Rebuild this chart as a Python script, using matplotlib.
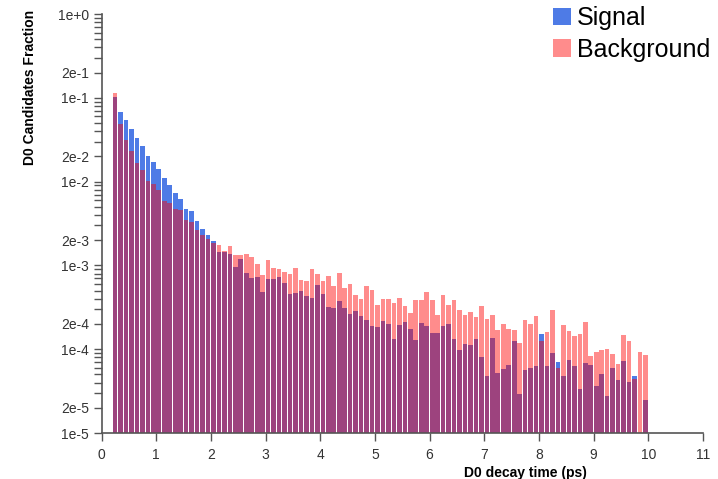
import numpy as np
import matplotlib
matplotlib.use("Agg")
import matplotlib.pyplot as plt
from matplotlib.patches import Patch
from matplotlib.ticker import FixedLocator, FuncFormatter

plt.rcParams['font.family'] = ['Liberation Sans', 'DejaVu Sans']

# decay time bins: 0.1 ps wide, from 0.2 to 10 ps (left edges)
bin_width = 0.1
bin_left = np.round(0.2 + bin_width * np.arange(98), 1)

# fraction of D0 candidates per bin
signal = [
    0.101, 0.0677, 0.0537, 0.042, 0.0331, 0.0266, 0.0204, 0.0171, 0.0141, 0.0110,
    0.0090, 0.0073, 0.0062, 0.0047, 0.00442, 0.0034, 0.00274, 0.00232, 0.00197, 0.00146,
    0.00145, 0.00137, 0.00095, 0.00119, 0.00082, 0.00071, 0.00073, 0.00048, 0.00069, 0.00069,
    0.00073, 0.00061, 0.00046, 0.00047, 0.000499, 0.000435, 0.000404, 0.000589, 0.000459, 0.000315,
    0.00031, 0.000372, 0.000307, 0.000263, 0.000288, 0.000251, 0.000221, 0.000191, 0.000184, 0.000219,
    0.000202, 0.000132, 0.000192, 0.000211, 0.000174, 0.00013, 0.000203, 0.000187, 0.000156, 0.000156,
    0.000191, 0.0002, 0.000133, 9.87e-5, 0.000115, 0.000113, 0.000132, 8.07e-5, 4.83e-5, 0.000136,
    5.2e-5, 5.85e-5, 6.53e-5, 0.000124, 2.92e-5, 5.69e-5, 6.01e-5, 6.24e-5, 0.000152, 6.24e-5,
    9.01e-5, 6.95e-5, 4.73e-5, 7.5e-5, 6.24e-5, 3.35e-5, 6.84e-5, 6.53e-5, 3.6e-5, 5.1e-5,
    2.79e-5, 5.97e-5, 4.33e-5, 7.15e-5, 4.06e-5, 4.73e-5, 0.0, 2.45e-5,
]
background = [
    0.115, 0.049, 0.0316, 0.0229, 0.0167, 0.0139, 0.0103, 0.00935, 0.0080, 0.0058,
    0.00555, 0.0047, 0.00454, 0.0035, 0.00326, 0.00267, 0.00232, 0.00206, 0.00185, 0.00173,
    0.00149, 0.00169, 0.00134, 0.00133, 0.00138, 0.00125, 0.00105, 0.00076, 0.00116, 0.00094,
    0.00091, 0.00083, 0.00080, 0.00094, 0.000675, 0.000644, 0.000906, 0.00079, 0.000656, 0.000747,
    0.000568, 0.000811, 0.000531, 0.000593, 0.000443, 0.000397, 0.000561, 0.000513, 0.000337, 0.000393,
    0.000393, 0.000352, 0.000404, 0.00033, 0.00027, 0.00039, 0.00039, 0.000485, 0.000382, 0.000253,
    0.000439, 0.00034, 0.00039, 0.000294, 0.000256, 0.000275, 0.000239, 0.000328, 0.000229, 0.000253,
    0.000171, 0.000201, 0.000176, 0.000171, 0.000117, 0.000221, 0.000198, 0.000251, 0.000124, 0.00016,
    0.000296, 5.97e-5, 0.000192, 0.000166, 0.000142, 0.00015, 0.000209, 8.2e-5, 9.27e-5, 9.68e-5,
    0.0001, 8.77e-5, 6.71e-5, 0.000149, 0.000126, 4.41e-5, 9.27e-5, 8.59e-5,
]

y_major = [1e-5, 2e-5, 1e-4, 2e-4, 1e-3, 2e-3, 1e-2, 2e-2, 1e-1, 2e-1, 1e0]
y_minor = [m * 10.0 ** k for k in range(-5, 0) for m in range(3, 10)]
x_ticks = list(range(0, 12))

sig_color = '#4e7be6'
bkg_color = (1.0, 0.0, 0.0, 0.45)
axis_color = '#555555'

fig = plt.figure(figsize=(7.18, 4.79), dpi=100)
ax = fig.add_axes([101.5 / 718, 1 - 433 / 479, 601.5 / 718, 419 / 479])

ax.set_yscale('log')
ax.bar(bin_left + 0.005, signal, width=0.085, align='edge', color=sig_color, linewidth=0)
ax.bar(bin_left + 0.005, background, width=0.085, align='edge', color=bkg_color, linewidth=0)

ax.set_xlim(0, 11)
ax.set_ylim(1e-5, 1e0)

def sci_label(v, pos):
    exp = int(np.floor(np.log10(v) + 1e-9))
    mant = int(round(v / 10.0 ** exp))
    return f"{mant}e{exp:+d}"

ax.yaxis.set_major_locator(FixedLocator(y_major))
ax.yaxis.set_minor_locator(FixedLocator(y_minor))
ax.yaxis.set_major_formatter(FuncFormatter(sci_label))
ax.yaxis.set_minor_formatter(FuncFormatter(lambda v, p: ''))
ax.set_xticks(x_ticks)

for side in ['top', 'right']:
    ax.spines[side].set_visible(False)
for side in ['left', 'bottom']:
    ax.spines[side].set_color(axis_color)
    ax.spines[side].set_linewidth(1.2)

ax.tick_params(axis='both', which='both', color=axis_color, width=1.0,
               labelcolor='#333333', labelsize=10)
ax.tick_params(axis='y', which='both', length=6, pad=3)
ax.tick_params(axis='x', which='major', length=6, pad=5)

ax.set_ylabel('D0 Candidates Fraction', fontsize=10, fontweight='bold', loc='top')
ax.yaxis.set_label_coords(-0.108, 1.01)
ax.set_xlabel('D0 decay time (ps)', fontsize=10, fontweight='bold')
ax.xaxis.set_label_coords(0.705, -0.078)

handles = [Patch(facecolor=sig_color, linewidth=0), Patch(facecolor=bkg_color, linewidth=0)]
fig.legend(handles, ['Signal', 'Background'], loc='upper left',
           bbox_to_anchor=(553 / 718, 1 - 6 / 479), frameon=False, fontsize=18,
           borderpad=0, borderaxespad=0, handlelength=0.7, handleheight=0.7,
           handletextpad=0.25, labelspacing=0.3)

fig.savefig('out.png', dpi=100)
